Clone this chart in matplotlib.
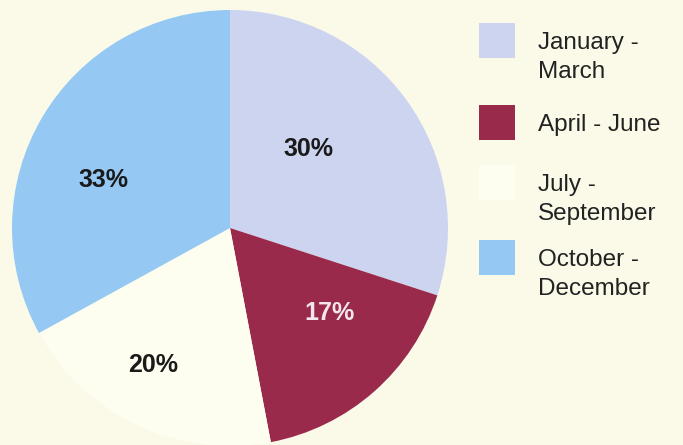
import numpy as np
import matplotlib
matplotlib.use("Agg")
import matplotlib.pyplot as plt
from matplotlib.patches import Rectangle

categories = ["January -\nMarch", "April - June", "July -\nSeptember", "October -\nDecember"]
values = [30, 17, 20, 33]
pct_labels = ["30%", "17%", "20%", "33%"]
colors = ["#cdd4f0", "#992a4c", "#fefef0", "#95c9f4"]
label_colors = ["#1a1a1a", "#f4e6ec", "#1a1a1a", "#1a1a1a"]
label_dist = [0.51, 0.60, 0.72, 0.62]
label_shift = [9, 8, -4, 10]  # degrees offset from wedge middle

bg = "#fbfae8"
W, H = 683, 445
fig = plt.figure(figsize=(W / 100, H / 100), dpi=100, facecolor=bg)
plt.rcParams['font.family'] = ['Liberation Sans', 'DejaVu Sans']

R = 218
cx, cy = 230, 228
ax = fig.add_axes([(cx - R) / W, (H - cy - R) / H, 2 * R / W, 2 * R / H])
ax.set_facecolor("none")
wedges, _ = ax.pie(values, colors=colors, startangle=90, counterclock=False,
                   radius=1.0, wedgeprops=dict(linewidth=0))
ax.set_xlim(-1, 1)
ax.set_ylim(-1, 1)
ax.set_aspect("equal")
ax.axis("off")

for w, txt, c, d, s in zip(wedges, pct_labels, label_colors, label_dist, label_shift):
    mid = np.deg2rad((w.theta1 + w.theta2) / 2 + s)
    ax.text(d * np.cos(mid), d * np.sin(mid), txt, ha="center", va="center",
            fontsize=18, fontweight="bold", color=c)

# legend
patch_tops = [23, 105, 165, 240]
for top, lab, col in zip(patch_tops, categories, colors):
    fig.patches.append(Rectangle((479 / W, (H - top - 35) / H), 36 / W, 35 / H,
                                 transform=fig.transFigure, facecolor=col,
                                 edgecolor="none"))
    fig.text(538 / W, (H - top - 9) / H, lab, ha="left", va="top",
             fontsize=17.5, color="#222222", linespacing=1.42)

fig.savefig("out.png", dpi=100, facecolor=bg)
